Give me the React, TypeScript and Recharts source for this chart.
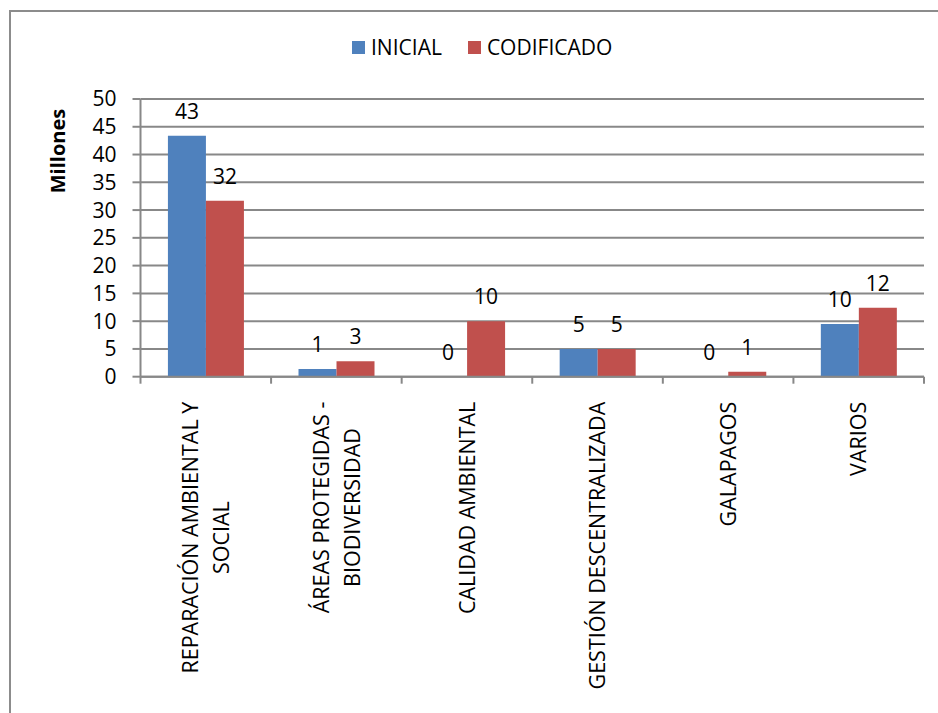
import React from "react";
import {
  BarChart,
  Bar,
  XAxis,
  YAxis,
  CartesianGrid,
  Legend,
  LabelList,
  Label,
} from "recharts";

const CATEGORIES = [
  "REPARACIÓN AMBIENTAL Y SOCIAL",
  "ÁREAS PROTEGIDAS - BIODIVERSIDAD",
  "CALIDAD AMBIENTAL",
  "GESTIÓN DESCENTRALIZADA",
  "GALAPAGOS",
  "VARIOS",
];
const CATEGORY_LINES = [
  ["REPARACIÓN AMBIENTAL Y", "SOCIAL"],
  ["ÁREAS PROTEGIDAS -", "BIODIVERSIDAD"],
  ["CALIDAD AMBIENTAL"],
  ["GESTIÓN DESCENTRALIZADA"],
  ["GALAPAGOS"],
  ["VARIOS"],
];
const INICIAL = [43.4, 1.4, 0, 5.0, 0, 9.5];
const CODIFICADO = [31.7, 2.8, 10.0, 5.0, 0.9, 12.4];
const Y_TICKS = [0, 5, 10, 15, 20, 25, 30, 35, 40, 45, 50];

const data = CATEGORIES.map((name, i) => ({
  name,
  inicial: INICIAL[i],
  codificado: CODIFICADO[i],
}));

const W = 938;
const H = 713;
const MARGIN = { top: 99, right: 14, left: 60.5, bottom: 0 };
const Y_WIDTH = 80;
const PLOT_W = W - MARGIN.left - Y_WIDTH - MARGIN.right;
const BAND = PLOT_W / CATEGORIES.length;
const GRID = "#888888";
const FONT = '"Open Sans", sans-serif';
const CAT_SIZE = 21.5;

let ctx: CanvasRenderingContext2D | null = null;
function textWidth(s: string, font: string) {
  if (!ctx) ctx = document.createElement("canvas").getContext("2d");
  if (!ctx) return s.length * 12;
  ctx.font = font;
  return ctx.measureText(s).width;
}

function CategoryTick(props: any) {
  const { x, y, index, visibleTicksCount } = props;
  const lines = CATEGORY_LINES[index] ?? [String(props.payload?.value)];
  const half = BAND / 2;
  const longest = Math.max(
    ...lines.map((l) => textWidth(l, `${CAT_SIZE}px "Open Sans"`))
  );
  const cy = y + 25 + longest / 2;
  const step = 31;
  const last = index === (visibleTicksCount ?? CATEGORIES.length) - 1;
  return (
    <g>
      <line x1={x - half} y1={y} x2={x - half} y2={y + 7} stroke={GRID} strokeWidth={2} />
      {last && (
        <line x1={x + half} y1={y} x2={x + half} y2={y + 7} stroke={GRID} strokeWidth={2} />
      )}
      {lines.map((l, i) => {
        const lx = x + (i - (lines.length - 1) / 2) * step;
        return (
          <text
            key={i}
            x={lx}
            y={cy}
            dy="0.36em"
            transform={`rotate(-90 ${lx} ${cy})`}
            textAnchor="middle"
            fontSize={CAT_SIZE}
            fontFamily={FONT}
            fill="#000"
          >
            {l}
          </text>
        );
      })}
    </g>
  );
}

function LegendContent() {
  const items = [
    { label: "INICIAL", color: "#4F81BD" },
    { label: "CODIFICADO", color: "#C0504D" },
  ];
  return (
    <div style={{ display: "flex", alignItems: "center", fontFamily: FONT, fontSize: 21, color: "#000", whiteSpace: "nowrap" }}>
      {items.map((it, i) => (
        <div key={it.label} style={{ display: "flex", alignItems: "center", marginRight: i === 0 ? 26 : 0 }}>
          <span style={{ width: 13, height: 13, background: it.color, marginRight: 6, display: "inline-block" }} />
          <span style={{ lineHeight: "26px" }}>{it.label}</span>
        </div>
      ))}
    </div>
  );
}

// bar value label, drawn for every entry including zero-height bars
function ValueLabel(props: any) {
  const { x, y, width, value } = props;
  if (value == null) return null;
  return (
    <text
      x={Number(x) + Number(width) / 2}
      y={Number(y) - 17}
      textAnchor="middle"
      fontSize={21}
      fontFamily={FONT}
      fill="#000"
    >
      {Math.round(Number(value))}
    </text>
  );
}

export default function App() {
  return (
    <div style={{ position: "absolute", left: 0, top: 0, width: W, height: H, overflow: "hidden", background: "#fff" }}>
      <div
        style={{
          position: "absolute",
          left: 9,
          top: 10,
          width: W + 20,
          height: H + 20,
          border: `2px solid #8c8c8c`,
          boxSizing: "border-box",
        }}
      />
      <div style={{ position: "absolute", left: 0, top: 0 }}>
        <BarChart
          width={W}
          height={H}
          data={data}
          margin={MARGIN}
          barCategoryGap="21%"
          barGap={0}
        >
          <CartesianGrid vertical={false} stroke={GRID} strokeWidth={2} />
          <Legend
            verticalAlign="middle"
            align="center"
            content={<LegendContent />}
            wrapperStyle={{ left: 352, top: 34, width: "auto" }}
          />
          <XAxis
            dataKey="name"
            interval={0}
            height={H - MARGIN.top - 277.7}
            tickLine={false}
            tickSize={0}
            tickMargin={0}
            axisLine={{ stroke: GRID, strokeWidth: 2 }}
            tick={<CategoryTick />}
          />
          <YAxis
            width={Y_WIDTH}
            domain={[0, 50]}
            ticks={Y_TICKS}
            interval={0}
            axisLine={{ stroke: GRID, strokeWidth: 2 }}
            tickLine={{ stroke: GRID, strokeWidth: 2 }}
            tickSize={8}
            tickMargin={16}
            tick={{ fontSize: 21, fontFamily: FONT, fill: "#000" }}
          >
            <Label
              content={() => (
                <text
                  x={65}
                  y={151}
                  transform="rotate(-90 65 151)"
                  textAnchor="middle"
                  fontSize={20}
                  fontWeight="bold"
                  fontFamily={FONT}
                  fill="#000"
                >
                  Millones
                </text>
              )}
            />
          </YAxis>
          <Bar dataKey="inicial" name="INICIAL" fill="#4F81BD" minPointSize={0.01} isAnimationActive={false}>
            <LabelList dataKey="inicial" content={<ValueLabel />} />
          </Bar>
          <Bar dataKey="codificado" name="CODIFICADO" fill="#C0504D" minPointSize={0.01} isAnimationActive={false}>
            <LabelList dataKey="codificado" content={<ValueLabel />} />
          </Bar>
        </BarChart>
      </div>
    </div>
  );
}
